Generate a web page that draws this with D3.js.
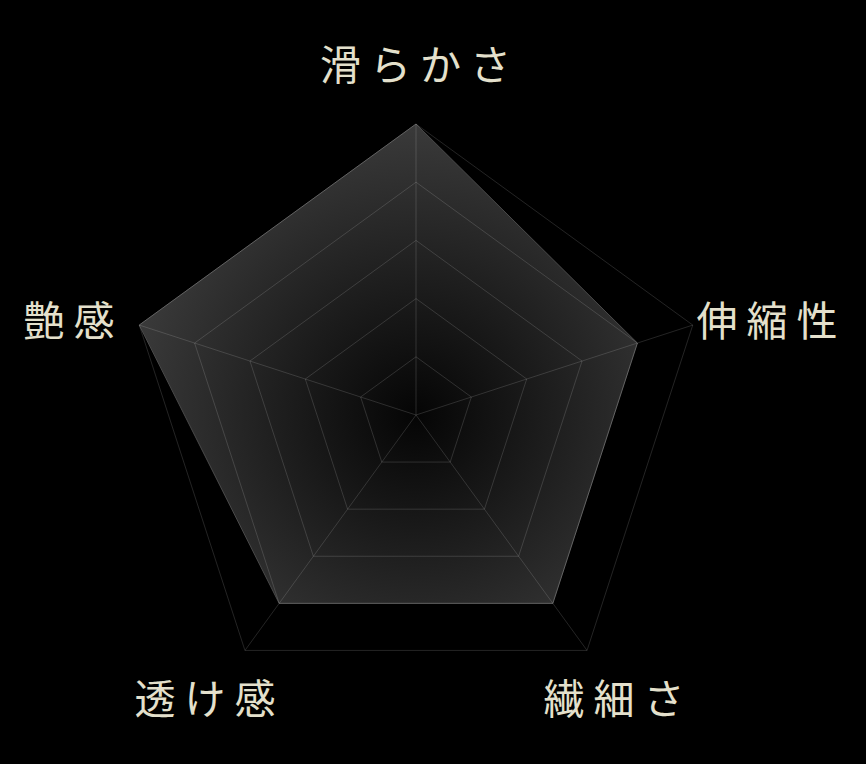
<!DOCTYPE html>
<html>
<head>
<meta charset="utf-8">
<script src="https://cdn.jsdelivr.net/npm/d3@7"></script>
<style>
  html, body { margin: 0; padding: 0; background: #000; }
  #radar { width: 866px; height: 764px; }
  .axis-label {
    font-family: "Noto Sans CJK JP", sans-serif;
    font-size: 41px;
    fill: #e4e0cc;
    letter-spacing: 9px;
  }
</style>
</head>
<body>
<div id="radar"></div>
<script>
// axes, clockwise from top
let categories = ["滑らかさ", "伸縮性", "繊細さ", "透け感", "艶感"]
let values = [5, 4, 4, 4, 5]
let levels = [1, 2, 3, 4, 5]
let MAX_VALUE = 5

let width = 866, height = 764
let cx = 416, cy = 415
let radius = 291

let svg = d3.select("#radar").append("svg")
  .attr("width", width)
  .attr("height", height)

let g = svg.append("g")
  .attr("transform", "translate(" + cx + "," + cy + ")")

let angle = d3.scalePoint()
  .domain(categories)
  .range([0, 2 * Math.PI * (categories.length - 1) / categories.length])

let rScale = d3.scaleLinear()
  .domain([0, MAX_VALUE])
  .range([0, radius])

function point(cat, v) {
  let a = angle(cat)
  return [rScale(v) * Math.sin(a), -rScale(v) * Math.cos(a)]
}

// gradient for the filled area: dark centre, lighter rim
let defs = svg.append("defs")
let grad = defs.append("radialGradient")
  .attr("id", "fillGrad")
  .attr("gradientUnits", "userSpaceOnUse")
  .attr("cx", 0).attr("cy", 0).attr("r", radius)
grad.append("stop").attr("offset", "0%").attr("stop-color", "#050505")
grad.append("stop").attr("offset", "100%").attr("stop-color", "#3a3a3a")

let line = d3.line().curve(d3.curveLinearClosed)

// data area
g.append("path")
  .datum(categories.map((c, i) => point(c, values[i])))
  .attr("d", line)
  .attr("fill", "url(#fillGrad)")
  .attr("stroke", "#4a4a4a")
  .attr("stroke-width", 1)

// grid rings
g.selectAll(".ring")
  .data(levels)
  .enter().append("path")
  .attr("class", "ring")
  .attr("d", lv => line(categories.map(c => point(c, lv))))
  .attr("fill", "none")
  .attr("stroke", "rgba(255,255,255,0.14)")
  .attr("stroke-width", 1)

// spokes
g.selectAll(".spoke")
  .data(categories)
  .enter().append("line")
  .attr("class", "spoke")
  .attr("x1", 0).attr("y1", 0)
  .attr("x2", c => point(c, MAX_VALUE)[0])
  .attr("y2", c => point(c, MAX_VALUE)[1])
  .attr("stroke", "rgba(255,255,255,0.14)")
  .attr("stroke-width", 1)

// labels - placed outside the outer ring
g.selectAll(".axis-label")
  .data(categories)
  .enter().append("text")
  .attr("class", "axis-label")
  .attr("text-anchor", c => {
    let s = Math.sin(angle(c))
    if (s > 0.9) return "start"
    if (s < -0.9) return "end"
    return "middle"
  })
  .attr("x", c => {
    let a = angle(c), s = Math.sin(a)
    if (Math.abs(s) > 0.9) return (radius + 4) * s + (s > 0 ? 0 : -12)
    if (Math.cos(a) < 0) return 348 * s - 2
    return 4
  })
  .attr("y", c => {
    let a = angle(c), co = Math.cos(a)
    if (Math.abs(Math.sin(a)) > 0.9) return -radius * co + 11
    if (co < 0) return 299
    return -335
  })
  .text(c => c)
</script>
</body>
</html>
